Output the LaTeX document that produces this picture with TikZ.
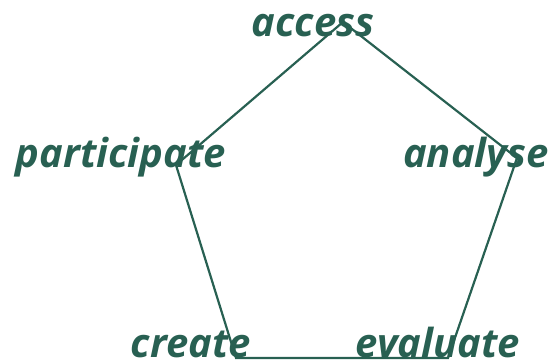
\documentclass[tikz,border=0pt]{standalone}
\usepackage{fontspec}
\setmainfont{Open Sans}
\definecolor{leafgreen}{RGB}{40,96,82}

\begin{document}
\begin{tikzpicture}[x=1pt,y=1pt,yscale=-1,xscale=1,
    stage/.style={anchor=base,inner sep=0.75pt,font=\fontsize{40}{46}\selectfont\bfseries\itshape,text=leafgreen},
    edge/.style={draw=leafgreen,line width=2.2pt}]
    \useasboundingbox (0,0) rectangle (555,362);
    
    % Text Node
    \node [stage] (access) at (313,36) {access};
    % Text Node
    \node [stage] (participate) at (121,167) {participate};
    % Text Node
    \node [stage] (analyse) at (476,167) {analyse};
    % Text Node
    \node [stage] (create) at (191,357) {create};
    % Text Node
    \node [stage] (evaluate) at (438,357) {evaluate};
    
    %Corners of the pentagon
    \coordinate (ptop) at (343,22);
    \coordinate (pright) at (517,158);
    \coordinate (pbr) at (448,358);
    \coordinate (pbl) at (236,358);
    \coordinate (pleft) at (176,165);
    
    %Straight Lines
    \draw [edge] (ptop) -- (pright) -- (pbr) -- (pbl) -- (pleft) -- cycle;
    
\end{tikzpicture}
\end{document}
